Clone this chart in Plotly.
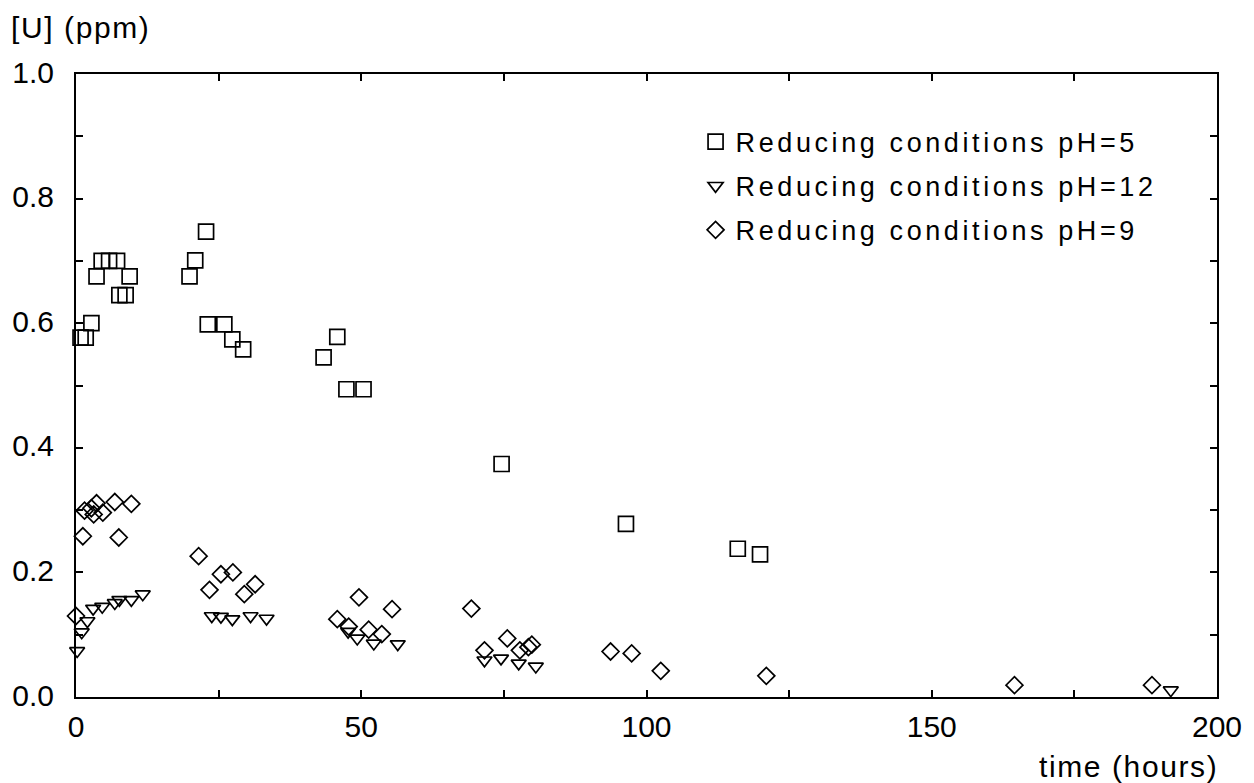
import plotly.graph_objects as go

# pH = 5 (squares)
t_ph5 = [0.8, 1.7, 2.7, 3.6, 4.5, 5.8, 7.2, 7.6, 8.7, 9.4, 19.9, 20.9, 22.8, 23.1, 26.0,
         27.4, 29.3, 43.4, 45.8, 47.4, 50.4, 74.6, 96.4, 116.0, 119.9]
u_ph5 = [0.577, 0.577, 0.600, 0.675, 0.700, 0.700, 0.700, 0.645, 0.645, 0.675, 0.675, 0.701,
         0.747, 0.598, 0.598, 0.574, 0.558, 0.545, 0.578, 0.494, 0.494, 0.374, 0.278, 0.238, 0.229]

# pH = 12 (down triangles)
t_ph12 = [0.2, 1.0, 2.0, 3.0, 4.6, 6.8, 7.6, 9.7, 11.7, 23.8, 25.4, 27.4, 30.6, 33.4,
          47.7, 49.3, 52.2, 56.4, 71.6, 74.5, 77.6, 80.6, 191.9]
u_ph12 = [0.074, 0.104, 0.122, 0.142, 0.145, 0.151, 0.156, 0.156, 0.165, 0.130, 0.129, 0.125,
          0.130, 0.126, 0.105, 0.094, 0.086, 0.085, 0.059, 0.062, 0.054, 0.049, 0.011]

# pH = 9 (diamonds)
t_ph9 = [0.0, 1.2, 1.5, 2.7, 3.1, 3.6, 4.7, 6.8, 7.5, 9.7, 21.5, 23.4, 25.4, 27.5, 29.5,
         31.4, 45.8, 47.8, 49.6, 51.3, 53.6, 55.4, 69.3, 71.6, 75.6, 77.8, 79.3, 79.9,
         93.7, 97.4, 102.5, 121.0, 164.5, 188.6]
u_ph9 = [0.130, 0.258, 0.299, 0.303, 0.293, 0.311, 0.296, 0.313, 0.256, 0.310, 0.226, 0.172,
         0.197, 0.200, 0.165, 0.181, 0.125, 0.113, 0.160, 0.108, 0.101, 0.141, 0.142, 0.075,
         0.094, 0.075, 0.080, 0.084, 0.073, 0.070, 0.042, 0.034, 0.019, 0.019]

names = ["Reducing conditions pH=5", "Reducing conditions pH=12", "Reducing conditions pH=9"]
x_tick_vals = [0, 50, 100, 150, 200]
x_tick_text = ["0", "50", "100", "150", "200"]
y_tick_vals = [0.0, 0.2, 0.4, 0.6, 0.8, 1.0]
y_tick_text = ["0.0", "0.2", "0.4", "0.6", "0.8", "1.0"]

FONT = "Liberation Sans"
LEG = '<span style="letter-spacing:3.6px">{}</span>'
LAB = '<span style="letter-spacing:1.6px">{}</span>'

fig = go.Figure()
series = [
    (t_ph5, u_ph5, "square-open", 15, names[0]),
    (t_ph12, u_ph12, "triangle-down-open", 13, names[1]),
    (t_ph9, u_ph9, "diamond-open", 13, names[2]),
]
for i, (xs, ys, sym, sz, nm) in enumerate(series):
    fig.add_trace(go.Scatter(
        x=xs, y=ys, mode="markers", name=LEG.format(nm), legendgroup=f"g{i}",
        marker=dict(symbol=sym, size=sz, color="black", line=dict(width=1.7, color="black")),
        cliponaxis=False,
    ))

axis_common = dict(
    showline=True, linecolor="black", linewidth=2, mirror="ticks",
    ticks="inside", ticklen=7, tickwidth=1.5, tickcolor="black",
    showgrid=False, zeroline=False,
    tickfont=dict(family=FONT, size=30, color="black"),
)

fig.update_layout(
    width=1254, height=783,
    margin=dict(l=73, r=36, t=74, b=86),
    paper_bgcolor="white", plot_bgcolor="white",
    font=dict(family=FONT, color="black"),
    xaxis=dict(range=[0, 200], tickmode="array", tickvals=x_tick_vals, ticktext=x_tick_text,
               minor=dict(dtick=25, ticks="inside", ticklen=7, tickwidth=1.5, tickcolor="black"),
               ticklabelstandoff=2, **axis_common),
    yaxis=dict(range=[0, 1.0], tickmode="array", tickvals=y_tick_vals, ticktext=y_tick_text,
               minor=dict(dtick=0.1, ticks="inside", ticklen=7, tickwidth=1.5, tickcolor="black"),
               ticklabelstandoff=14, ticklabelshift=-2, **axis_common),
    showlegend=True,
    legend=dict(x=0.543, y=0.93, xanchor="left", yanchor="top",
                font=dict(family=FONT, size=27, color="black"),
                bgcolor="rgba(0,0,0,0)", borderwidth=0,
                traceorder="grouped", tracegroupgap=6),
    annotations=[
        dict(text=LAB.format("[U] (ppm)"), xref="paper", yref="paper", x=-0.059, y=1.075,
             xanchor="left", yanchor="middle", showarrow=False,
             font=dict(family=FONT, size=30, color="black")),
        dict(text=LAB.format("time (hours)"), xref="paper", yref="paper", x=1.003, y=-0.111,
             xanchor="right", yanchor="middle", showarrow=False,
             font=dict(family=FONT, size=30, color="black")),
    ],
)

fig.write_html("out.html")
